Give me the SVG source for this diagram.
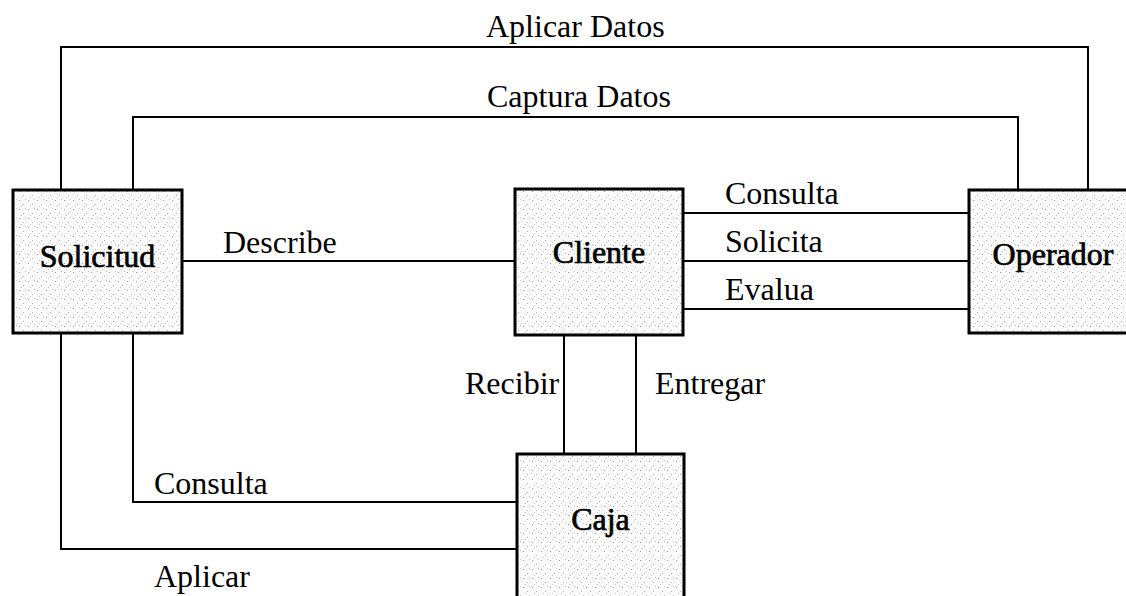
<svg xmlns="http://www.w3.org/2000/svg" width="1126" height="596" viewBox="0 0 1126 596">
  <defs>
    <pattern id="stipple" width="9" height="9" patternUnits="userSpaceOnUse">
      <rect width="9" height="9" fill="#fbfbfb"/>
      <rect x="1" y="2" width="1" height="1" fill="#9a9a9a"/>
      <rect x="5" y="6" width="1" height="1" fill="#b0b0b0"/>
      <rect x="7" y="1" width="1" height="1" fill="#c4c4c4"/>
      <rect x="3" y="8" width="1" height="1" fill="#c8c8c8"/>
    </pattern>
  </defs>
  <style>
    .box { fill: url(#stipple); stroke: #000; stroke-width: 3; }
    .conn { fill: none; stroke: #000; stroke-width: 2; }
    .lbl { font-family: "Liberation Serif", "Times New Roman", serif; font-size: 32px; fill: #000; }
    .node { font-family: "Liberation Serif", "Times New Roman", serif; font-size: 32px; fill: #000; stroke: #000; stroke-width: 0.7; text-anchor: middle; }
  </style>
  <rect width="1126" height="596" fill="#fff"/>

  <g id="connectors">
    <polyline class="conn" points="61,190 61,47 1088,47 1088,190"/>
    <polyline class="conn" points="133,190 133,117 1018,117 1018,190"/>
    <line class="conn" x1="182" y1="261" x2="515" y2="261"/>
    <line class="conn" x1="683" y1="213" x2="969" y2="213"/>
    <line class="conn" x1="683" y1="261" x2="969" y2="261"/>
    <line class="conn" x1="683" y1="309" x2="969" y2="309"/>
    <line class="conn" x1="564" y1="335" x2="564" y2="454"/>
    <line class="conn" x1="636" y1="335" x2="636" y2="454"/>
    <polyline class="conn" points="133,333 133,502 517,502"/>
    <polyline class="conn" points="61,333 61,549 517,549"/>
    <text class="lbl" x="486" y="37">Aplicar Datos</text>
    <text class="lbl" x="487" y="107">Captura Datos</text>
    <text class="lbl" x="223" y="253">Describe</text>
    <text class="lbl" x="725" y="204">Consulta</text>
    <text class="lbl" x="725" y="252">Solicita</text>
    <text class="lbl" x="725" y="300">Evalua</text>
    <text class="lbl" x="465" y="394">Recibir</text>
    <text class="lbl" x="655" y="394">Entregar</text>
    <text class="lbl" x="154" y="494">Consulta</text>
    <text class="lbl" x="154" y="587">Aplicar</text>
  </g>

  <g id="solicitud">
    <rect class="box" x="13" y="190" width="169" height="143"/>
    <text class="node" x="97.5" y="267">Solicitud</text>
  </g>
  <g id="cliente">
    <rect class="box" x="515" y="189" width="168" height="146"/>
    <text class="node" x="599" y="263">Cliente</text>
  </g>
  <g id="operador">
    <rect class="box" x="969" y="190" width="170" height="143"/>
    <text class="node" x="1053" y="265">Operador</text>
  </g>
  <g id="caja">
    <rect class="box" x="517" y="454" width="167" height="160"/>
    <text class="node" x="600.5" y="530">Caja</text>
  </g>
</svg>
